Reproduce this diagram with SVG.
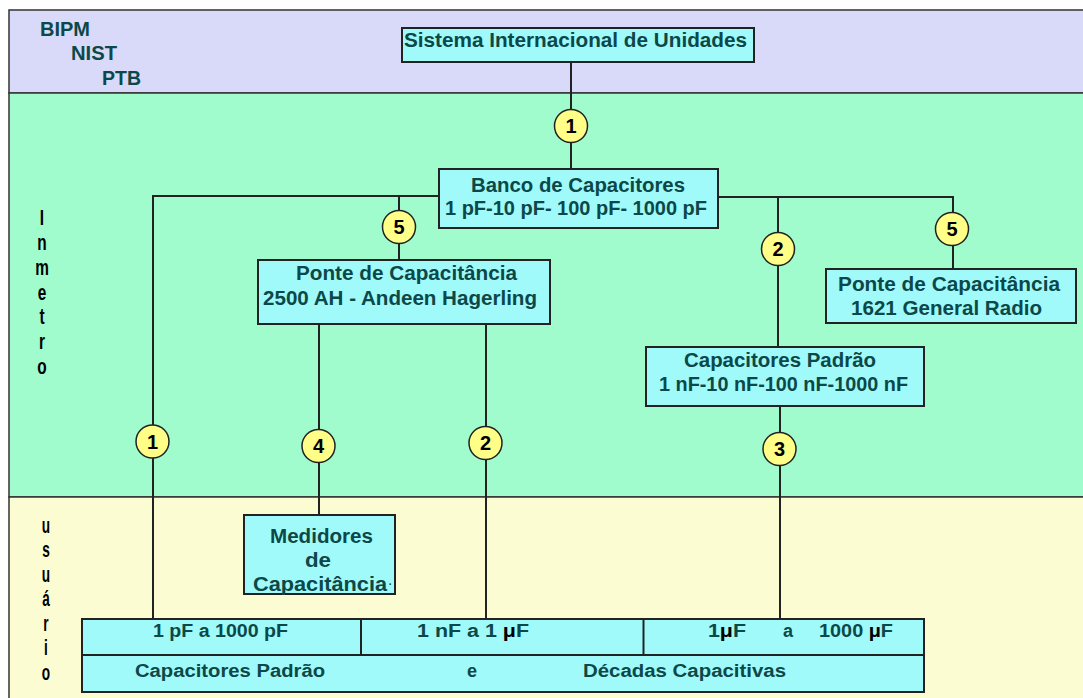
<svg xmlns="http://www.w3.org/2000/svg" width="1083" height="698" viewBox="0 0 1083 698">
  <style>
    .band { stroke: #333333; stroke-width: 1.5; }
    .box { fill: #A0FAFA; stroke: #222222; stroke-width: 2; }
    .wire { fill: none; stroke: #222222; stroke-width: 2; }
    .badge { fill: #FFFF88; stroke: #222222; stroke-width: 1.5; }
    .lbl { font-family: "Liberation Sans", Arial, sans-serif; font-weight: bold; font-size: 20px; fill: #0C4848; text-anchor: middle; }
    .sm { font-size: 18px; }
    .num { font-family: "Liberation Sans", Arial, sans-serif; font-weight: bold; font-size: 20px; fill: #000000; text-anchor: middle; }
    .side { font-family: "Liberation Sans", Arial, sans-serif; font-weight: bold; font-size: 22px; fill: #000000; text-anchor: middle; }
    .mu { fill: #000000; }
  </style>

  <!-- background bands -->
  <rect width="1083" height="698" fill="#FFFFFF"/>
  <g id="bands">
    <rect class="band" x="9" y="10" width="1080" height="83" fill="#D9D9FA"/>
    <rect class="band" x="9" y="93" width="1080" height="404" fill="#A0FCCC"/>
    <rect class="band" x="9" y="497" width="1080" height="210" fill="#FCFCD2"/>
  </g>

  <!-- band titles -->
  <g id="band-titles">
    <text class="lbl" x="65" y="35.5" textLength="50" lengthAdjust="spacingAndGlyphs">BIPM</text>
    <text class="lbl" x="94" y="60" textLength="46" lengthAdjust="spacingAndGlyphs">NIST</text>
    <text class="lbl" x="121.5" y="85" textLength="39" lengthAdjust="spacingAndGlyphs">PTB</text>
    <g transform="translate(42,0) scale(0.7,1)">
      <text class="side" x="0" y="225">I</text>
      <text class="side" x="0" y="250">n</text>
      <text class="side" x="0" y="275">m</text>
      <text class="side" x="0" y="300">e</text>
      <text class="side" x="0" y="324">t</text>
      <text class="side" x="0" y="349">r</text>
      <text class="side" x="0" y="374">o</text>
    </g>
    <g transform="translate(46,0) scale(0.62,1)">
      <text class="side" x="0" y="533">u</text>
      <text class="side" x="0" y="557.5">s</text>
      <text class="side" x="0" y="582">u</text>
      <text class="side" x="0" y="606.5">á</text>
      <text class="side" x="0" y="631">r</text>
      <text class="side" x="0" y="655.5">i</text>
      <text class="side" x="0" y="680">o</text>
    </g>
  </g>

  <!-- connectors -->
  <g id="connectors">
    <path class="wire" d="M571 62 V169"/>
    <path class="wire" d="M439 196 H153 V619"/>
    <path class="wire" d="M399 196 V260"/>
    <path class="wire" d="M319 324 V515"/>
    <path class="wire" d="M486 324 V619"/>
    <path class="wire" d="M718 197 H953 V269"/>
    <path class="wire" d="M778 197 V347"/>
    <path class="wire" d="M780 406 V619"/>
  </g>

  <!-- step badges -->
  <g id="badges">
    <g id="badge-si"><circle class="badge" cx="571" cy="126" r="16.5"/><text class="num" x="571" y="133">1</text></g>
    <g id="badge-ponte2500"><circle class="badge" cx="399" cy="227" r="16.5"/><text class="num" x="399" y="234">5</text></g>
    <g id="badge-padrao"><circle class="badge" cx="778" cy="249" r="16.5"/><text class="num" x="778" y="256">2</text></g>
    <g id="badge-ponte1621"><circle class="badge" cx="952" cy="229" r="16.5"/><text class="num" x="952" y="236">5</text></g>
    <g id="badge-pf"><circle class="badge" cx="152.5" cy="441.5" r="16.5"/><text class="num" x="152.5" y="448.5">1</text></g>
    <g id="badge-medidores"><circle class="badge" cx="318.5" cy="446" r="16.5"/><text class="num" x="318.5" y="453">4</text></g>
    <g id="badge-nf"><circle class="badge" cx="485.5" cy="443" r="16.5"/><text class="num" x="485.5" y="450">2</text></g>
    <g id="badge-uf"><circle class="badge" cx="779.5" cy="449" r="16.5"/><text class="num" x="779.5" y="456">3</text></g>
  </g>

  <!-- nodes -->
  <g id="node-si">
    <rect class="box" x="402" y="28" width="352" height="34"/>
    <text class="lbl" x="575.5" y="47" textLength="343" lengthAdjust="spacingAndGlyphs">Sistema Internacional de Unidades</text>
  </g>

  <g id="node-banco">
    <rect class="box" x="439" y="169" width="279" height="59"/>
    <text class="lbl" x="578" y="192" textLength="214" lengthAdjust="spacingAndGlyphs">Banco de Capacitores</text>
    <text class="lbl" x="576" y="215" textLength="262" lengthAdjust="spacingAndGlyphs">1 pF-10 pF- 100 pF- 1000 pF</text>
  </g>

  <g id="node-ponte2500">
    <rect class="box" x="258" y="260" width="292" height="64"/>
    <text class="lbl" x="406.5" y="280" textLength="221" lengthAdjust="spacingAndGlyphs">Ponte de Capacitância</text>
    <text class="lbl" x="400" y="305" textLength="274" lengthAdjust="spacingAndGlyphs">2500 AH - Andeen Hagerling</text>
  </g>

  <g id="node-ponte1621">
    <rect class="box" x="826" y="269" width="250" height="54"/>
    <text class="lbl" x="949" y="291" textLength="222" lengthAdjust="spacingAndGlyphs">Ponte de Capacitância</text>
    <text class="lbl" x="946.5" y="315" textLength="191" lengthAdjust="spacingAndGlyphs">1621 General Radio</text>
  </g>

  <g id="node-padrao">
    <rect class="box" x="646" y="347" width="278" height="59"/>
    <text class="lbl" x="780" y="367" textLength="192" lengthAdjust="spacingAndGlyphs">Capacitores Padrão</text>
    <text class="lbl" x="783.5" y="391" textLength="249" lengthAdjust="spacingAndGlyphs">1 nF-10 nF-100 nF-1000 nF</text>
  </g>

  <g id="node-medidores">
    <rect class="box" x="244" y="515" width="151" height="79"/>
    <text class="lbl" x="321.5" y="543" textLength="103" lengthAdjust="spacingAndGlyphs">Medidores</text>
    <text class="lbl" x="318" y="567" textLength="26" lengthAdjust="spacingAndGlyphs">de</text>
    <text class="lbl" x="320" y="591" textLength="134" lengthAdjust="spacingAndGlyphs">Capacitância</text>
    <text class="lbl" x="390.5" y="588" style="font-size:10px">·</text>
  </g>

  <g id="node-faixas">
    <rect class="box" x="82" y="619" width="842" height="73"/>
    <path class="wire" d="M82 655 H924 M361 619 V655 M643.5 619 V655"/>
    <text class="lbl sm" x="220.5" y="637" textLength="135" lengthAdjust="spacingAndGlyphs">1 pF a 1000 pF</text>
    <text class="lbl sm" x="473" y="637" textLength="112" lengthAdjust="spacingAndGlyphs">1 nF a 1 <tspan class="mu">μ</tspan>F</text>
    <text class="lbl sm" x="727" y="637" textLength="38" lengthAdjust="spacingAndGlyphs">1<tspan class="mu">μ</tspan>F</text>
    <text class="lbl sm" x="788" y="637">a</text>
    <text class="lbl sm" x="856" y="637" textLength="74" lengthAdjust="spacingAndGlyphs">1000 <tspan class="mu">μ</tspan>F</text>
    <text class="lbl sm" x="230" y="677" textLength="190" lengthAdjust="spacingAndGlyphs">Capacitores Padrão</text>
    <text class="lbl sm" x="472" y="677">e</text>
    <text class="lbl sm" x="684.5" y="677" textLength="203" lengthAdjust="spacingAndGlyphs">Décadas Capacitivas</text>
  </g>
</svg>
